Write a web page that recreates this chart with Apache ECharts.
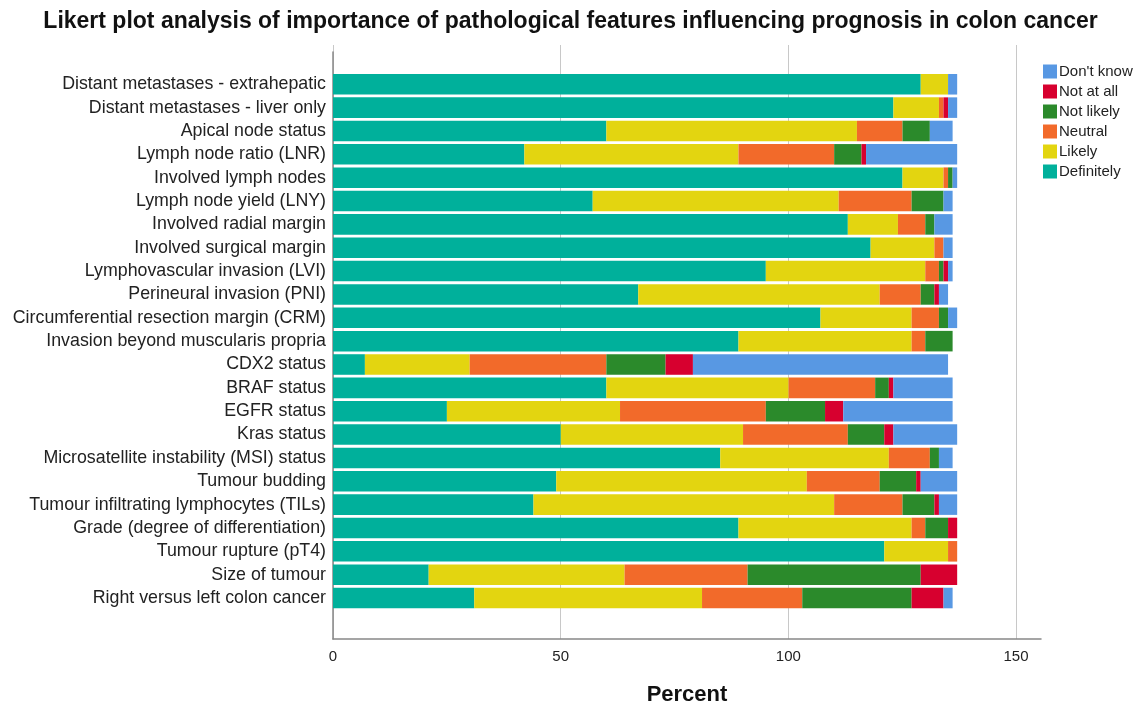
<!DOCTYPE html>
<html>
<head>
<meta charset="utf-8">
<title>Likert plot</title>
<script src="https://cdn.jsdelivr.net/npm/echarts@6/dist/echarts.min.js"></script>
<style>
    html, body { margin: 0; padding: 0; background: #fff; }
    #main { width: 1141px; height: 708px; }
</style>
</head>
<body>
<div id="main"></div>
<script>
// categories, top to bottom
var features = [
    "Distant metastases - extrahepatic",
    "Distant metastases - liver only",
    "Apical node status",
    "Lymph node ratio (LNR)",
    "Involved lymph nodes",
    "Lymph node yield (LNY)",
    "Involved radial margin",
    "Involved surgical margin",
    "Lymphovascular invasion (LVI)",
    "Perineural invasion (PNI)",
    "Circumferential resection margin (CRM)",
    "Invasion beyond muscularis propria",
    "CDX2 status",
    "BRAF status",
    "EGFR status",
    "Kras status",
    "Microsatellite instability (MSI) status",
    "Tumour budding",
    "Tumour infiltrating lymphocytes (TILs)",
    "Grade (degree of differentiation)",
    "Tumour rupture (pT4)",
    "Size of tumour",
    "Right versus left colon cancer"
];
// values
var definitely = [129, 123, 60, 42, 125, 57, 113, 118, 95, 67, 107, 89, 7, 60, 25, 50, 85, 49, 44, 89, 121, 21, 31];
var likely     = [6, 10, 55, 47, 9, 54, 11, 14, 35, 53, 20, 38, 23, 40, 38, 40, 37, 55, 66, 38, 14, 43, 50];
var neutral    = [0, 1, 10, 21, 1, 16, 6, 2, 3, 9, 6, 3, 30, 19, 32, 23, 9, 16, 15, 3, 2, 27, 22];
var notLikely  = [0, 0, 6, 6, 1, 7, 2, 0, 1, 3, 2, 6, 13, 3, 13, 8, 2, 8, 7, 5, 0, 38, 24];
var notAtAll   = [0, 1, 0, 1, 0, 0, 0, 0, 1, 1, 0, 0, 6, 1, 4, 2, 0, 1, 1, 2, 0, 8, 7];
var dontKnow   = [2, 2, 5, 20, 1, 2, 4, 2, 1, 2, 2, 0, 56, 13, 24, 14, 3, 8, 4, 0, 0, 0, 2];
var xTicks = [0, 50, 100, 150];

var seriesNames = ["Definitely", "Likely", "Neutral", "Not likely", "Not at all", "Don't know"];
var seriesData = [definitely, likely, neutral, notLikely, notAtAll, dontKnow];
var seriesColors = ["#00b09b", "#e3d510", "#f26a2a", "#2b8a2b", "#d7002f", "#5898e3"];

var myChart = echarts.init(document.getElementById('main'));

var series = [];
for (var i = 0; i < seriesNames.length; i++) {
    series.push({
        name: seriesNames[i],
        type: 'bar',
        stack: 'total',
        xAxisIndex: 0,
        yAxisIndex: 0,
        barCategoryGap: '12%',
        itemStyle: { color: seriesColors[i] },
        data: seriesData[i]
    });
}

var option = {
    animation: false,
    backgroundColor: '#ffffff',
    title: {
        text: 'Likert plot analysis of importance of pathological features influencing prognosis in colon cancer',
        left: 'center',
        top: 5,
        textStyle: {
            fontFamily: 'Liberation Sans',
            fontSize: 23,
            fontWeight: 'bold',
            color: '#111'
        }
    },
    legend: {
        orient: 'vertical',
        left: 1038,
        top: 59,
        itemWidth: 14,
        itemHeight: 14,
        itemGap: 5,
        icon: 'rect',
        textStyle: { fontFamily: 'Liberation Sans', fontSize: 15, lineHeight: 14, color: '#222', padding: [0, 0, 0, -3] },
        data: seriesNames.slice().reverse()
    },
    grid: [
        // bars
        { left: 333, right: 100, top: 72.6, bottom: 98.3, outerBoundsMode: 'none' },
        // gridlines and ticks up to 150
        { left: 333, right: 125, top: 45, bottom: 69, outerBoundsMode: 'none' },
        // axis line that runs past 150
        { left: 333, right: 100, top: 52, bottom: 69, outerBoundsMode: 'none' }
    ],
    xAxis: [
        {
            gridIndex: 0, type: 'value', min: 0, max: 155.4,
            show: false
        },
        {
            gridIndex: 1, type: 'value', min: xTicks[0], max: xTicks[xTicks.length - 1], interval: 50,
            axisLine: { show: false },
            axisTick: { show: false },
            axisLabel: { fontFamily: 'Liberation Sans', fontSize: 15, color: '#222', margin: 10 },
            splitLine: { show: true, lineStyle: { color: '#c8c8c8', width: 1 } }
        },
        {
            gridIndex: 2, type: 'value', min: 0, max: 155.4,
            axisLine: { show: true, lineStyle: { color: '#888', width: 1.5 } },
            axisTick: { show: false },
            axisLabel: { show: false },
            splitLine: { show: false },
            name: 'Percent',
            nameLocation: 'middle',
            nameGap: 45,
            nameTextStyle: { fontFamily: 'Liberation Sans', fontSize: 22, fontWeight: 'bold', color: '#111' }
        }
    ],
    yAxis: [
        {
            gridIndex: 0, type: 'category', inverse: true,
            data: features,
            axisLine: { show: false },
            axisTick: { show: false },
            axisLabel: { interval: 0, fontFamily: 'Liberation Sans', fontSize: 17.8, color: '#222', margin: 7 }
        },
        {
            gridIndex: 1, type: 'value', min: 0, max: 1,
            show: false
        },
        {
            gridIndex: 2, type: 'value', min: 0, max: 1,
            axisLine: { show: true, lineStyle: { color: '#888', width: 1.5 } },
            axisTick: { show: false },
            axisLabel: { show: false },
            splitLine: { show: false }
        }
    ],
    series: series
};
myChart.setOption(option);
</script>
</body>
</html>
